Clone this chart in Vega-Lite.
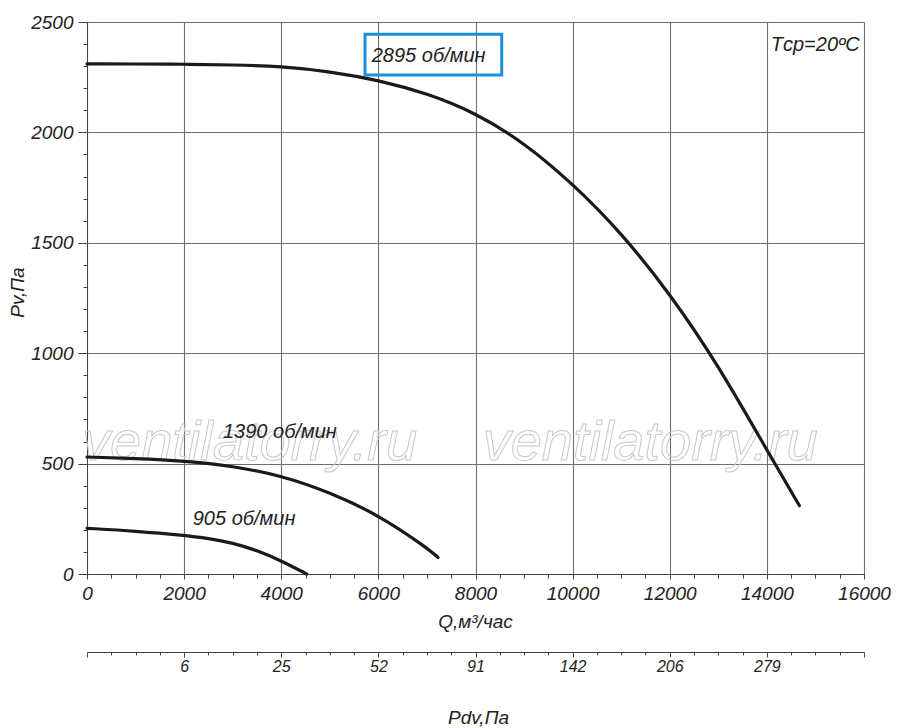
{
  "$schema": "https://vega.github.io/schema/vega-lite/v6.json",
  "description": "Fan curves Pv(Q) for 905, 1390 and 2895 rpm",
  "width": 777,
  "height": 552,
  "autosize": "none",
  "padding": {"left": 87, "top": 22, "right": 36, "bottom": 154},
  "background": "white",
  "config": {
    "view": {"stroke": null},
    "font": "Liberation Sans"
  },
  "datasets": {
    "curves": [
      {"rpm": "2895", "Q": 0, "Pv": 2310},
      {"rpm": "2895", "Q": 1000, "Pv": 2310},
      {"rpm": "2895", "Q": 2000, "Pv": 2309},
      {"rpm": "2895", "Q": 3000, "Pv": 2306},
      {"rpm": "2895", "Q": 4000, "Pv": 2299},
      {"rpm": "2895", "Q": 5000, "Pv": 2276},
      {"rpm": "2895", "Q": 6000, "Pv": 2237},
      {"rpm": "2895", "Q": 7000, "Pv": 2177},
      {"rpm": "2895", "Q": 8000, "Pv": 2089},
      {"rpm": "2895", "Q": 9000, "Pv": 1954},
      {"rpm": "2895", "Q": 10000, "Pv": 1768},
      {"rpm": "2895", "Q": 11000, "Pv": 1546},
      {"rpm": "2895", "Q": 12000, "Pv": 1271},
      {"rpm": "2895", "Q": 13000, "Pv": 946},
      {"rpm": "2895", "Q": 14000, "Pv": 561},
      {"rpm": "2895", "Q": 14668, "Pv": 310},
      {"rpm": "1390", "Q": 0, "Pv": 530},
      {"rpm": "1390", "Q": 1000, "Pv": 523},
      {"rpm": "1390", "Q": 2000, "Pv": 512},
      {"rpm": "1390", "Q": 3000, "Pv": 489},
      {"rpm": "1390", "Q": 4000, "Pv": 446},
      {"rpm": "1390", "Q": 5000, "Pv": 370},
      {"rpm": "1390", "Q": 6000, "Pv": 268},
      {"rpm": "1390", "Q": 7000, "Pv": 119},
      {"rpm": "1390", "Q": 7228, "Pv": 75},
      {"rpm": "905", "Q": 0, "Pv": 207},
      {"rpm": "905", "Q": 1000, "Pv": 194},
      {"rpm": "905", "Q": 2000, "Pv": 175},
      {"rpm": "905", "Q": 2500, "Pv": 161},
      {"rpm": "905", "Q": 3000, "Pv": 141},
      {"rpm": "905", "Q": 3500, "Pv": 107},
      {"rpm": "905", "Q": 4000, "Pv": 60},
      {"rpm": "905", "Q": 4524, "Pv": 0}
    ],
    "labels": [
      {"text": "2895 об/мин", "Q": 5863, "Pv": 2321},
      {"text": "1390 об/мин", "Q": 2800, "Pv": 616},
      {"text": "905 об/мин", "Q": 2177, "Pv": 223},
      {"text": "Tср=20ºC", "Q": 14080, "Pv": 2369}
    ],
    "box": [
      {"Q": 5725, "Q2": 8540, "Pv": 2445, "Pv2": 2260}
    ],
    "watermark": [
      {"text": "ventilatorry.ru", "Q": 0, "Pv": 518},
      {"text": "ventilatorry.ru", "Q": 8250, "Pv": 518}
    ]
  },
  "encoding": {
    "y": {
      "field": "Pv",
      "type": "quantitative",
      "scale": {"domain": [0, 2500], "nice": false, "zero": true},
      "axis": {
        "values": [0, 100, 200, 300, 400, 500, 600, 700, 800, 900, 1000, 1100, 1200, 1300, 1400, 1500, 1600, 1700, 1800, 1900, 2000, 2100, 2200, 2300, 2400, 2500],
        "format": "d",
        "labelExpr": "datum.value % 500 === 0 ? datum.label : ''",
        "labelOverlap": false,
        "labelFlush": false,
        "labelFont": "Liberation Sans",
        "labelFontStyle": "italic",
        "labelFontSize": 19,
        "labelColor": "#222",
        "labelPadding": 5,
        "tickColor": "#444",
        "tickSize": {"condition": {"test": "datum.value % 500 === 0", "value": 9}, "value": 4},
        "domainColor": "#444",
        "grid": true,
        "gridColor": "#6e6e6e",
        "gridWidth": 1.1,
        "gridOpacity": {"condition": {"test": "datum.value % 500 === 0", "value": 1}, "value": 0},
        "title": "Pv,Па",
        "titleFont": "Liberation Sans",
        "titleFontStyle": "italic",
        "titleFontWeight": "normal",
        "titleFontSize": 19,
        "titleColor": "#222",
        "titleAngle": 270,
        "titleX": -64,
        "titleY": 270,
        "titleAlign": "center",
        "titleBaseline": "alphabetic"
      }
    }
  },
  "layer": [
    {
      "data": {"name": "watermark"},
      "mark": {
        "type": "text",
        "align": "left",
        "baseline": "alphabetic",
        "dx": -5,
        "font": "Liberation Sans",
        "fontStyle": "italic",
        "fontSize": 56,
        "fillOpacity": 0,
        "stroke": "#c8c8c8",
        "strokeWidth": 1
      },
      "encoding": {
        "x": {"field": "Q", "type": "quantitative", "scale": {"domain": [0, 16000], "nice": false}, "axis": null},
        "text": {"field": "text"}
      }
    },
    {
      "data": {"name": "box"},
      "mark": {"type": "rect", "fillOpacity": 0, "stroke": "#1a8fdc", "strokeWidth": 3},
      "encoding": {
        "x": {
          "field": "Q",
          "type": "quantitative",
          "scale": {"domain": [0, 16000], "nice": false},
          "axis": {
            "orient": "bottom",
            "offset": 78,
            "values": [0, 500, 1000, 1500, 2000, 2500, 3000, 3500, 4000, 4500, 5000, 5500, 6000, 6500, 7000, 7500, 8000, 8500, 9000, 9500, 10000, 10500, 11000, 11500, 12000, 12500, 13000, 13500, 14000, 14500, 15000, 15500, 16000],
            "labelExpr": "datum.value == 2000 ? '6' : datum.value == 4000 ? '25' : datum.value == 6000 ? '52' : datum.value == 8000 ? '91' : datum.value == 10000 ? '142' : datum.value == 12000 ? '206' : datum.value == 14000 ? '279' : ''",
            "labelOverlap": false,
            "labelFlush": false,
            "labelFont": "Liberation Sans",
            "labelFontStyle": "italic",
            "labelFontSize": 16,
            "labelColor": "#222",
            "labelPadding": 1,
            "tickColor": "#444",
            "tickSize": {"condition": {"test": "datum.value % 2000 === 0", "value": 5}, "value": 3},
            "domainColor": "#444",
            "grid": false,
            "title": "Pdv,Па",
            "titleFont": "Liberation Sans",
            "titleFontStyle": "italic",
            "titleFontWeight": "normal",
            "titleFontSize": 19,
            "titleColor": "#222",
            "titleX": 391,
            "titleY": 71,
            "titleAlign": "center",
            "titleBaseline": "alphabetic"
          }
        },
        "x2": {"field": "Q2"},
        "y2": {"field": "Pv2"}
      }
    },
    {
      "data": {"name": "curves"},
      "mark": {"type": "line", "color": "#1a1a1a", "strokeWidth": 3.2, "interpolate": "basis", "strokeCap": "round"},
      "encoding": {
        "x": {
          "field": "Q",
          "type": "quantitative",
          "scale": {"domain": [0, 16000], "nice": false},
          "axis": {
            "orient": "bottom",
            "values": [0, 500, 1000, 1500, 2000, 2500, 3000, 3500, 4000, 4500, 5000, 5500, 6000, 6500, 7000, 7500, 8000, 8500, 9000, 9500, 10000, 10500, 11000, 11500, 12000, 12500, 13000, 13500, 14000, 14500, 15000, 15500, 16000],
            "format": "d",
            "labelExpr": "datum.value % 2000 === 0 ? datum.label : ''",
            "labelOverlap": false,
            "labelFlush": false,
            "labelFont": "Liberation Sans",
            "labelFontStyle": "italic",
            "labelFontSize": 19,
            "labelColor": "#222",
            "labelPadding": 5,
            "tickColor": "#444",
            "tickSize": {"condition": {"test": "datum.value % 2000 === 0", "value": 5}, "value": 4},
            "domainColor": "#444",
            "grid": true,
            "gridColor": "#6e6e6e",
            "gridWidth": 1.1,
            "gridOpacity": {"condition": {"test": "datum.value % 2000 === 0", "value": 1}, "value": 0},
            "title": "Q,м³/час",
            "titleFont": "Liberation Sans",
            "titleFontStyle": "italic",
            "titleFontWeight": "normal",
            "titleFontSize": 19,
            "titleColor": "#222",
            "titleX": 388,
            "titleY": 53,
            "titleAlign": "center",
            "titleBaseline": "alphabetic"
          }
        },
        "detail": {"field": "rpm"}
      }
    },
    {
      "data": {"name": "labels"},
      "mark": {
        "type": "text",
        "align": "left",
        "baseline": "alphabetic",
        "font": "Liberation Sans",
        "fontStyle": "italic",
        "fontSize": 20,
        "color": "#222"
      },
      "encoding": {
        "x": {"field": "Q", "type": "quantitative", "scale": {"domain": [0, 16000], "nice": false}, "axis": null},
        "text": {"field": "text"}
      }
    }
  ],
  "resolve": {"axis": {"x": "independent"}}
}
